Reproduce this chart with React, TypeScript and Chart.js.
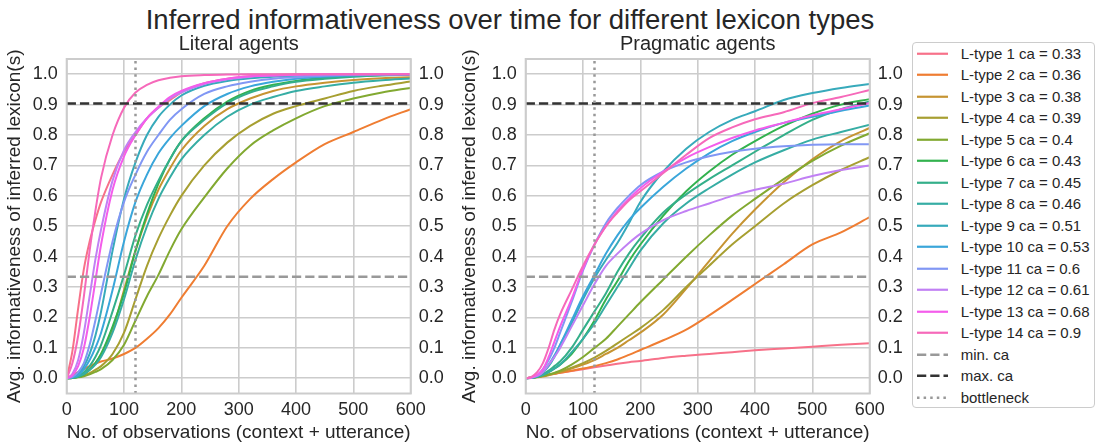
import React, { useEffect, useRef } from "react";
import { Chart, registerables } from "chart.js";

Chart.register(...registerables);

const FONT = '"Liberation Sans", Arial, Helvetica, sans-serif';
const TEXT = "#262626";
const GRID = "#cccccc";

const MAIN_TITLE = "Inferred informativeness over time for different lexicon types";
const PANEL_TITLES = ["Literal agents", "Pragmatic agents"];
const X_LABEL = "No. of observations (context + utterance)";
const Y_LABEL = "Avg. informativeness of inferred lexicon(s)";

const X_OBS = [0, 10, 20, 30, 40, 50, 60, 80, 100, 120, 140, 160, 180, 200, 240, 280, 320, 360, 400, 450, 500, 550, 600];
const X_TICKS = [0, 100, 200, 300, 400, 500, 600];
const Y_TICKS = [0, 0.1, 0.2, 0.3, 0.4, 0.5, 0.6, 0.7, 0.8, 0.9, 1.0];
const Y_MIN = -0.05;
const Y_MAX = 1.05;

const CA_VALUES = [0.33, 0.36, 0.38, 0.39, 0.4, 0.43, 0.45, 0.46, 0.51, 0.53, 0.6, 0.61, 0.68, 0.9];
const MIN_CA = 0.334;
const MAX_CA = 0.904;
const BOTTLENECK = 120;

// Literal agents
const LIT_1 = [0, .09, .23, .36, .45, .52, .58, .67, .745, .80, .855, .89, .915, .94, .97, .985, .993, .997, 1, 1, 1, 1, 1];
const LIT_2 = [0, .01, .02, .03, .04, .048, .055, .065, .08, .10, .13, .165, .21, .265, .37, .50, .59, .655, .71, .77, .81, .85, .885];
const LIT_3 = [0, .002, .007, .016, .03, .05, .08, .16, .29, .42, .53, .62, .69, .75, .83, .885, .92, .945, .96, .972, .981, .987, .99];
const LIT_4 = [0, .001, .004, .009, .017, .028, .04, .08, .15, .26, .37, .46, .535, .60, .70, .775, .83, .87, .895, .92, .945, .962, .976];
const LIT_5 = [0, .001, .003, .007, .013, .021, .03, .06, .11, .19, .27, .34, .42, .49, .595, .69, .765, .815, .855, .895, .92, .94, .955];
const LIT_6 = [0, .001, .005, .013, .028, .05, .08, .17, .28, .42, .54, .64, .72, .78, .855, .91, .945, .965, .978, .988, .994, .997, .999];
const LIT_7 = [0, .002, .008, .02, .04, .07, .11, .22, .34, .47, .57, .65, .72, .78, .85, .905, .94, .96, .975, .985, .992, .996, .998];
const LIT_8 = [0, .002, .006, .014, .027, .045, .07, .15, .26, .39, .50, .59, .66, .72, .80, .86, .90, .925, .945, .96, .972, .98, .986];
const LIT_9 = [0, .004, .015, .04, .08, .14, .22, .42, .59, .71, .80, .86, .90, .93, .962, .978, .987, .992, .995, .997, .998, .999, 1];
const LIT_10 = [0, .003, .01, .03, .06, .10, .15, .29, .45, .58, .67, .74, .79, .83, .895, .935, .96, .975, .985, .992, .996, .998, 1];
const LIT_11 = [0, .005, .02, .05, .11, .19, .28, .45, .58, .67, .745, .80, .85, .885, .935, .96, .975, .985, .99, .995, .998, 1, 1];
const LIT_12 = [0, .015, .06, .15, .27, .39, .49, .65, .75, .81, .855, .89, .92, .94, .968, .983, .992, .996, .998, 1, 1, 1, 1];
const LIT_13 = [0, .01, .04, .10, .20, .32, .44, .62, .73, .80, .855, .893, .925, .945, .97, .985, .993, .996, .998, 1, 1, 1, 1];
const LIT_14 = [0, .05, .14, .27, .42, .55, .66, .80, .89, .94, .965, .98, .988, .993, .997, .999, 1, 1, 1, 1, 1, 1, 1];

// Pragmatic agents
const PRAG_1 = [0, .003, .006, .009, .012, .015, .018, .024, .03, .036, .042, .048, .053, .057, .067, .074, .08, .086, .092, .098, .104, .11, .115];
const PRAG_2 = [0, .003, .005, .008, .012, .015, .018, .025, .032, .04, .05, .062, .077, .093, .125, .16, .207, .258, .31, .375, .44, .48, .53];
const PRAG_3 = [0, .001, .003, .006, .01, .015, .02, .032, .045, .06, .08, .10, .125, .15, .21, .295, .385, .475, .555, .645, .72, .78, .823];
const PRAG_4 = [0, .002, .004, .008, .012, .017, .022, .035, .05, .068, .09, .115, .14, .165, .225, .30, .37, .44, .50, .575, .635, .685, .727];
const PRAG_5 = [0, .002, .004, .008, .012, .018, .025, .045, .07, .10, .13, .17, .21, .25, .325, .40, .47, .535, .59, .655, .715, .765, .806];
const PRAG_6 = [0, .002, .005, .012, .02, .032, .045, .08, .13, .19, .26, .32, .385, .44, .535, .615, .68, .735, .78, .83, .87, .90, .918];
const PRAG_7 = [0, .002, .006, .014, .025, .04, .055, .10, .16, .22, .28, .35, .41, .46, .545, .605, .655, .70, .745, .80, .85, .885, .91];
const PRAG_8 = [0, .002, .005, .011, .02, .032, .045, .085, .13, .18, .24, .30, .36, .42, .51, .575, .625, .67, .71, .75, .785, .81, .834];
const PRAG_9 = [0, .002, .008, .02, .04, .07, .11, .18, .26, .33, .39, .445, .51, .58, .68, .755, .81, .85, .878, .915, .938, .955, .968];
const PRAG_10 = [0, .002, .008, .02, .045, .075, .11, .19, .27, .34, .41, .47, .52, .56, .63, .69, .74, .78, .81, .84, .86, .88, .897];
const PRAG_11 = [0, .003, .01, .03, .06, .10, .15, .25, .355, .44, .51, .56, .60, .635, .68, .71, .73, .745, .755, .763, .768, .77, .77];
const PRAG_12 = [0, .002, .008, .02, .045, .07, .10, .17, .24, .31, .37, .41, .445, .475, .52, .55, .575, .60, .62, .64, .665, .685, .70];
const PRAG_13 = [0, .003, .012, .03, .07, .12, .17, .26, .36, .44, .50, .55, .59, .625, .68, .725, .76, .79, .815, .84, .865, .885, .905];
const PRAG_14 = [0, .005, .02, .05, .10, .16, .21, .29, .37, .44, .50, .545, .585, .615, .675, .735, .79, .825, .852, .875, .905, .925, .948];

const LITERAL = [LIT_1, LIT_2, LIT_3, LIT_4, LIT_5, LIT_6, LIT_7, LIT_8, LIT_9, LIT_10, LIT_11, LIT_12, LIT_13, LIT_14];
const PRAGMATIC = [PRAG_1, PRAG_2, PRAG_3, PRAG_4, PRAG_5, PRAG_6, PRAG_7, PRAG_8, PRAG_9, PRAG_10, PRAG_11, PRAG_12, PRAG_13, PRAG_14];

// seaborn "husl" palette
const HM = [
  [3.2406, -1.5372, -0.4986],
  [-0.9689, 1.8758, 0.0415],
  [0.0557, -0.204, 1.057],
];
function maxChroma(L: number, H: number) {
  const hrad = (H / 180) * Math.PI;
  const sinH = Math.sin(hrad);
  const cosH = Math.cos(hrad);
  const sub1 = Math.pow(L + 16, 3) / 1560896;
  const sub2 = sub1 > 0.008856 ? sub1 : L / 903.3;
  let result = Infinity;
  for (const [m1, m2, m3] of HM) {
    const top = (0.99915 * m1 + 1.05122 * m2 + 1.1446 * m3) * sub2;
    const rbottom = 0.8633 * m3 - 0.17266 * m2;
    const lbottom = 0.12949 * m3 - 0.38848 * m1;
    const bottom = (rbottom * sinH + lbottom * cosH) * sub2;
    for (const t of [0, 1]) {
      const C = (L * (top - 1.05122 * t)) / (bottom + 0.17266 * sinH * t);
      if (C > 0 && C < result) result = C;
    }
  }
  return result;
}
function husl(H: number, S: number, L: number) {
  const C = (maxChroma(L, H) / 100) * S;
  const hrad = (H / 180) * Math.PI;
  const U = Math.cos(hrad) * C;
  const V = Math.sin(hrad) * C;
  const t = (L + 16) / 116;
  const Y = t * t * t > 0.008856 ? t * t * t : (116 * t - 16) / 903.3;
  const varU = U / (13 * L) + 0.19784;
  const varV = V / (13 * L) + 0.46834;
  const X = -(9 * Y * varU) / ((varU - 4) * varV - varU * varV);
  const Z = (9 * Y - 15 * varV * Y - varV * X) / (3 * varV);
  const rgb = HM.map(([a, b, c]) => {
    let v = a * X + b * Y + c * Z;
    v = v <= 0.0031308 ? 12.92 * v : 1.055 * Math.pow(v, 1 / 2.4) - 0.055;
    return Math.round(Math.min(1, Math.max(0, v)) * 255);
  });
  return `rgb(${rgb.join(",")})`;
}
const PALETTE = CA_VALUES.map((_, i) => husl((((i / CA_VALUES.length) + 0.01) % 1) * 359, 0.9 * 99, 0.65 * 99));

const framePlugin = {
  id: "frame",
  afterDatasetsDraw(chart: any) {
    const { ctx, chartArea: a } = chart;
    ctx.save();
    ctx.strokeStyle = GRID;
    ctx.lineWidth = 2;
    ctx.strokeRect(a.left, a.top, a.right - a.left, a.bottom - a.top);
    ctx.restore();
  },
};

type Geo = { yLeftW: number; yRightW: number; yTitleX: number };

function makeConfig(title: string, series: number[][], geo: Geo): any {
  const datasets: any[] = series.map((arr, i) => ({
    label: `L-type ${i + 1} ca = ${CA_VALUES[i]}`,
    data: X_OBS.map((x, j) => ({ x, y: arr[j] })),
    borderColor: PALETTE[i],
    borderWidth: 2,
    pointRadius: 0,
    fill: false,
    cubicInterpolationMode: "monotone",
    order: 100 - i,
    yAxisID: "y",
  }));
  const x0 = X_TICKS[0];
  const x1 = X_TICKS[X_TICKS.length - 1];
  datasets.push({
    label: "min. ca",
    data: [{ x: x0, y: MIN_CA }, { x: x1, y: MIN_CA }],
    borderColor: "#999999",
    borderWidth: 2.5,
    borderDash: [9.25, 4],
    pointRadius: 0,
    order: 2,
    yAxisID: "y",
  });
  datasets.push({
    label: "max. ca",
    data: [{ x: x0, y: MAX_CA }, { x: x1, y: MAX_CA }],
    borderColor: "#333333",
    borderWidth: 2.5,
    borderDash: [9.25, 4],
    pointRadius: 0,
    order: 1,
    yAxisID: "y",
  });
  datasets.push({
    label: "bottleneck",
    data: [{ x: BOTTLENECK, y: Y_MIN }, { x: BOTTLENECK, y: Y_MAX }],
    borderColor: "#999999",
    borderWidth: 2.5,
    borderDash: [2.5, 4.1],
    pointRadius: 0,
    order: 0,
    yAxisID: "y",
  });

  const tickFont = { family: FONT, size: 18 };
  const yTicks = (s: any) => {
    s.ticks = Y_TICKS.map((v) => ({ value: v }));
  };
  const fmtY = (v: any) => Number(v).toFixed(1);

  return {
    type: "line",
    data: { datasets },
    plugins: [framePlugin],
    options: {
      animation: false,
      responsive: false,
      events: [],
      layout: { padding: 0 },
      plugins: {
        legend: { display: false },
        tooltip: { enabled: false },
        title: {
          display: true,
          text: title,
          color: TEXT,
          font: { family: FONT, size: 20, weight: "normal" },
          padding: { top: 32.5, bottom: 2.5 },
          fullSize: false,
        },
      },
      scales: {
        x: {
          type: "linear",
          position: "bottom",
          min: X_TICKS[0],
          max: X_TICKS[X_TICKS.length - 1],
          afterBuildTicks: (s: any) => {
            s.ticks = X_TICKS.map((v) => ({ value: v }));
          },
          afterFit: (s: any) => {
            s.height = 52.5;
          },
          grid: { color: GRID, lineWidth: 1.6, drawTicks: false },
          border: { display: false },
          ticks: {
            color: TEXT,
            font: tickFont,
            padding: 6,
            maxRotation: 0,
            autoSkip: false,
            callback: (v: any) => String(v),
          },
          title: {
            display: true,
            text: X_LABEL,
            color: TEXT,
            font: { family: FONT, size: 19 },
            padding: { top: 0, bottom: 1.9 },
          },
        },
        y: {
          type: "linear",
          position: "left",
          min: Y_MIN,
          max: Y_MAX,
          afterBuildTicks: yTicks,
          afterFit: (s: any) => {
            s.width = geo.yLeftW;
          },
          grid: { color: GRID, lineWidth: 1.6, drawTicks: false },
          border: { display: false },
          ticks: { color: TEXT, font: tickFont, padding: 9, callback: fmtY },
          title: {
            display: true,
            text: Y_LABEL,
            color: TEXT,
            font: { family: FONT, size: 19 },
            padding: { top: geo.yTitleX - 11.4, bottom: 0 },
          },
        },
        y2: {
          type: "linear",
          position: "right",
          min: Y_MIN,
          max: Y_MAX,
          afterBuildTicks: yTicks,
          afterFit: (s: any) => {
            s.width = geo.yRightW;
          },
          grid: { display: false, drawTicks: false },
          border: { display: false },
          ticks: { color: TEXT, font: tickFont, padding: 8, callback: fmtY },
        },
      },
    },
  };
}

const LEGEND_ITEMS = [
  ...CA_VALUES.map((ca, i) => ({ label: `L-type ${i + 1} ca = ${ca}`, color: PALETTE[i], dash: "" })),
  { label: "min. ca", color: "#999999", dash: "9.25 4" },
  { label: "max. ca", color: "#333333", dash: "9.25 4" },
  { label: "bottleneck", color: "#999999", dash: "2.5 4.1" },
];

export default function App() {
  const leftRef = useRef<HTMLCanvasElement | null>(null);
  const rightRef = useRef<HTMLCanvasElement | null>(null);

  useEffect(() => {
    const c1 = new Chart(leftRef.current as HTMLCanvasElement, makeConfig(PANEL_TITLES[0], LITERAL, { yLeftW: 66.7, yRightW: 41.3, yTitleX: 15 }));
    const c2 = new Chart(rightRef.current as HTMLCanvasElement, makeConfig(PANEL_TITLES[1], PRAGMATIC, { yLeftW: 73.7, yRightW: 42.3, yTitleX: 18 }));
    return () => {
      c1.destroy();
      c2.destroy();
    };
  }, []);

  return (
    <div style={{ position: "fixed", left: 0, top: 0, width: 1099, height: 446, background: "#ffffff", fontFamily: FONT, color: TEXT, overflow: "hidden" }}>
      <div style={{ position: "absolute", left: 0, top: 6, width: 1020, textAlign: "center", fontSize: 27.5, lineHeight: "27px", whiteSpace: "nowrap" }}>{MAIN_TITLE}</div>
      <canvas ref={leftRef} width={452} height={446} style={{ position: "absolute", left: 0, top: 0, width: 452, height: 446 }} />
      <canvas ref={rightRef} width={460} height={446} style={{ position: "absolute", left: 452, top: 0, width: 460, height: 446 }} />
      <div style={{ position: "absolute", left: 912, top: 41.7, width: 183, height: 366, border: "1px solid #cccccc", borderRadius: 4, boxSizing: "border-box", background: "#ffffff" }}>
        {LEGEND_ITEMS.map((it, i) => (
          <div key={i} style={{ position: "absolute", left: 0, top: 11 + 21.5 * i - 10.75, height: 21.5, width: 181 }}>
            <svg width={34} height={21.5} style={{ position: "absolute", left: 4.3, top: 0 }}>
              <line x1={0} y1={10.75} x2={31} y2={10.75} stroke={it.color} strokeWidth={it.dash ? 2.5 : 2.2} strokeDasharray={it.dash || undefined} />
            </svg>
            <div style={{ position: "absolute", left: 47.7, top: 0, height: 21.5, lineHeight: "21.5px", fontSize: 15, whiteSpace: "nowrap" }}>{it.label}</div>
          </div>
        ))}
      </div>
    </div>
  );
}
